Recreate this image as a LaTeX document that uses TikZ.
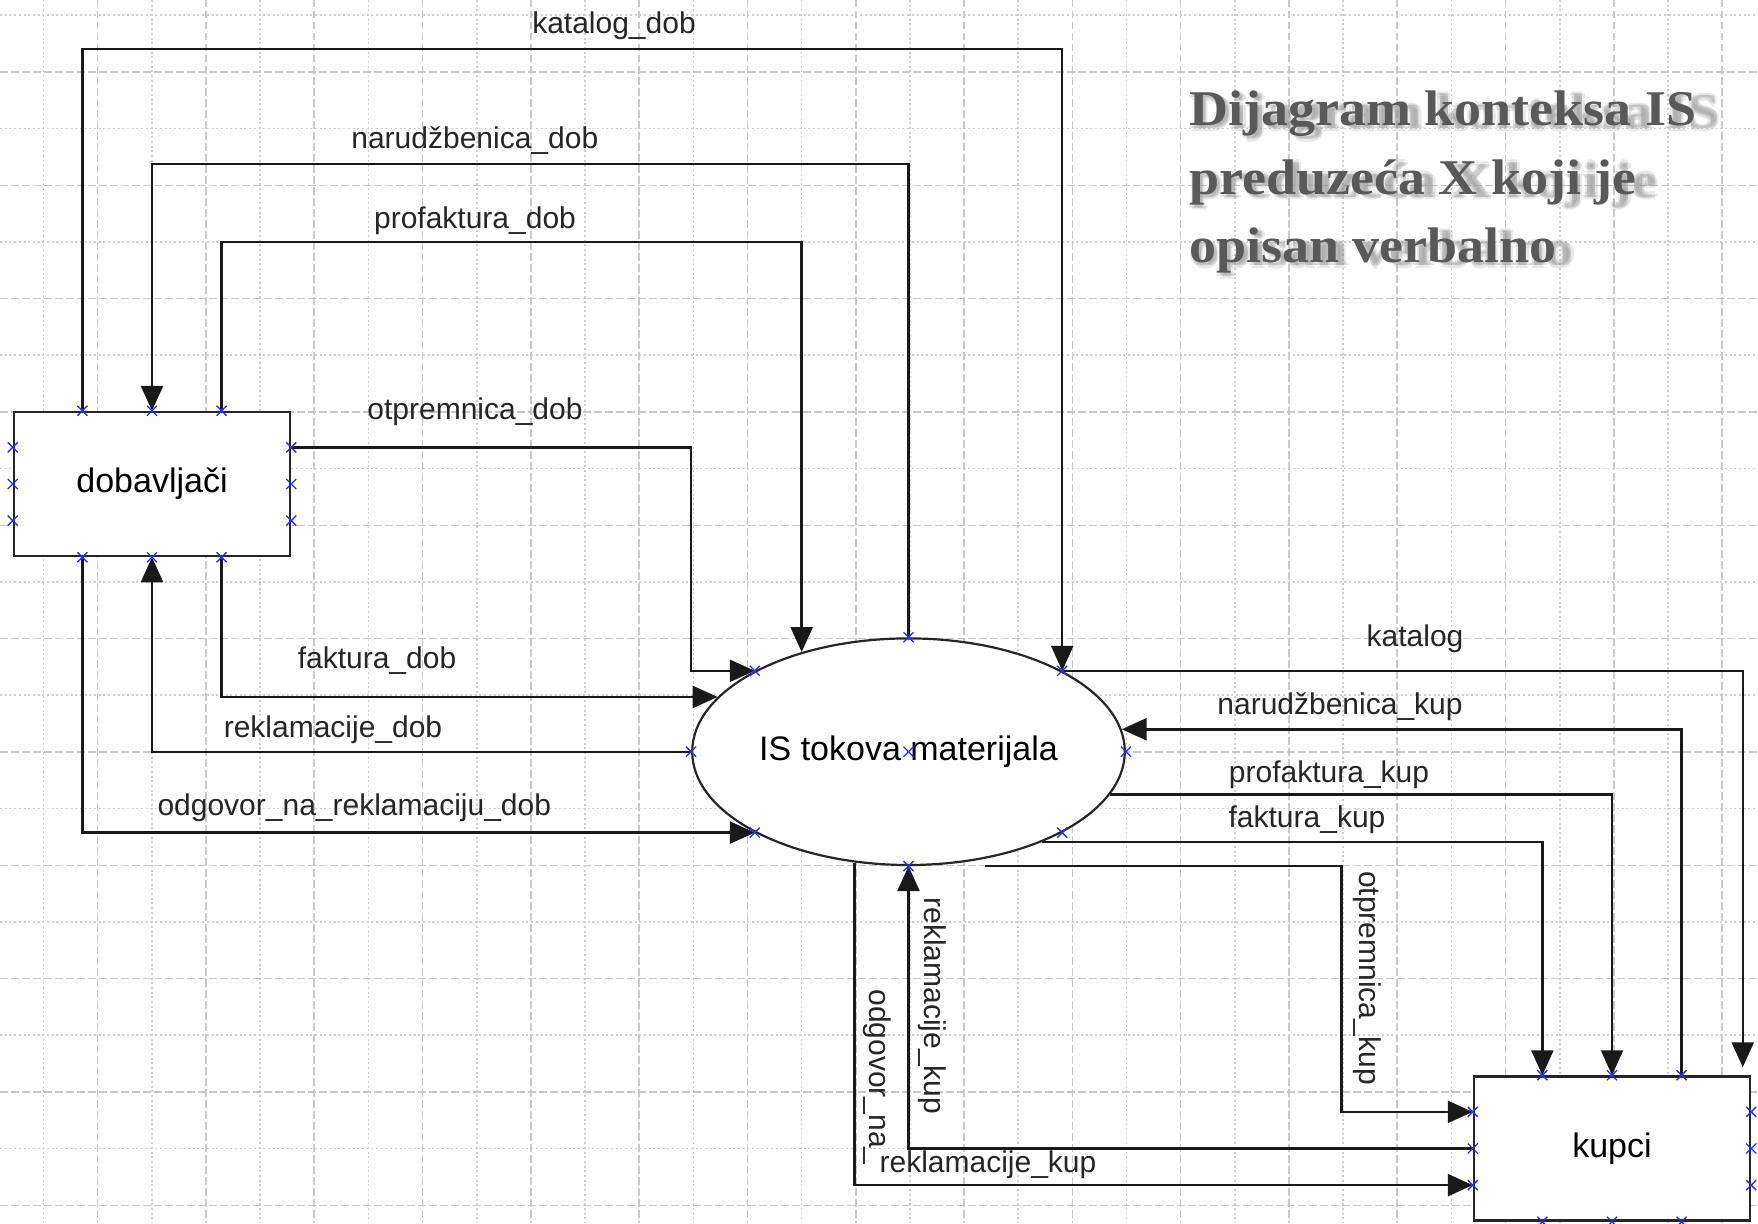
\documentclass[tikz,border=0pt]{standalone}
\usepackage{fontspec}
\usepackage{graphicx}
\newfontfamily\lab{Liberation Sans}
\newfontfamily\ttlfont{Liberation Serif}
\usetikzlibrary{arrows.meta,shapes.geometric,calc}
\definecolor{cpblue}{RGB}{45,45,240}

\begin{document}
\begin{tikzpicture}[x=1pt,y=-1pt,
  gmaj/.style={draw=gray!42,line width=1.6pt,dash pattern=on 7.5pt off 3.5pt},
  gmin/.style={draw=gray!38,line width=1.6pt,dash pattern=on 2pt off 2.7pt},
  entity/.style={draw=black!85,line width=2.5pt,fill=white,minimum width=276pt,
    minimum height=144pt,inner sep=0pt,font=\lab\fontsize{34}{40}\selectfont},
  proc/.style={ellipse,draw=black!85,line width=2.2pt,fill=white,
    minimum width=432.6pt,minimum height=226.6pt,inner sep=0pt,
    font=\lab\fontsize{34}{40}\selectfont},
  flow/.style={draw=black!90,line width=2.4pt},
  arr/.style={flow,-{Triangle[length=25pt,width=22pt]}},
  lbl/.style={anchor=base,inner sep=0pt,text=black!85,font=\lab\fontsize{30}{36}\selectfont},
  vlbl/.style={lbl,rotate=-90},
  ttl/.style={anchor=base west,inner sep=0pt,text=black!65,
    font=\ttlfont\fontsize{50}{60}\selectfont\bfseries},
  cp/.pic={\draw[cpblue,line width=1.3pt] (-5,-5)--(5,5) (-5,5)--(5,-5);}
]
\fill[white] (0,0) rectangle (1758,1223);
\useasboundingbox (0,0) rectangle (1758,1223);

% background grid: dotted minor lines, dashed major lines
\foreach \i in {0,...,15} {
  \draw[gmin] ({43.5+108.3*\i},0) -- ({43.5+108.3*\i},1223);
  \draw[gmaj] ({97.65+108.3*\i},0) -- ({97.65+108.3*\i},1223);
}
\foreach \i in {0,...,10} {
  \draw[gmin] (0,{15.3+113.33*\i}) -- (1758,{15.3+113.33*\i});
  \draw[gmaj] (0,{72+113.33*\i}) -- (1758,{72+113.33*\i});
}

% external entities and the process
\node[entity] (dob) at (152,484) {dobavljači};
\node[entity] (kup) at (1612,1148.5) {kupci};
\node[proc] (ell) at (908.5,751.7) {IS tokova materijala};

% connection points on the entity boxes (quarter points of each side)
\foreach \n/\f in {1/0.25,2/0.5,3/0.75} {
  \coordinate (dT\n) at ($(dob.north west)!\f!(dob.north east)$);
  \coordinate (dB\n) at ($(dob.south west)!\f!(dob.south east)$);
  \coordinate (dL\n) at ($(dob.north west)!\f!(dob.south west)$);
  \coordinate (dR\n) at ($(dob.north east)!\f!(dob.south east)$);
  \coordinate (kT\n) at ($(kup.north west)!\f!(kup.north east)$);
  \coordinate (kB\n) at ($(kup.south west)!\f!(kup.south east)$);
  \coordinate (kL\n) at ($(kup.north west)!\f!(kup.south west)$);
  \coordinate (kR\n) at ($(kup.north east)!\f!(kup.south east)$);
}

% routing levels
\coordinate (lvKD) at (0,49.3);
\coordinate (lvND) at (0,163.7);
\coordinate (lvPD) at (0,242);
\coordinate (colOK) at (1341.5,0);
\coordinate (katEnd) at ($(kup.north east)+(-8.5,-8)$);
\coordinate (otpStart) at ($(ell.south)+(76,0)$);

% flows with the suppliers
\draw[arr] (dT1) -- (dT1 |- lvKD) -| (ell.north east);
\draw[arr] (ell.north) -- (ell.north |- lvND) -| (dT2);
\draw[arr] (dT3) -- (dT3 |- lvPD) -| (ell.137.9);
\draw[arr] (dR1) -- (dR1 -| ell.west) |- (ell.north west);
\draw[arr] (dB3) |- (ell.164.26);
\draw[arr] (ell.west) -| (dB2);
\draw[arr] (dB1) |- (ell.south west);

% flows with the customers
\draw[arr] (ell.north east) -| (katEnd);
\draw[arr] (kT3) |- (ell.6.03);
\draw[arr] (ell.-12.97) -| (kT2);
\draw[arr] (ell.-34.9) -| (kT1);
\draw[arr] (otpStart) -- (otpStart -| colOK) |- (kL1);
\draw[arr] (kL2) -| (ell.south);
\draw[arr] (ell.244.0) |- (kL3);

% flow labels
\node[lbl] (lKD) at (614,33.5) {katalog\_dob};
\node[lbl] (lND) at (474.8,148) {narudžbenica\_dob};
\node[lbl] (lPD) at (475,228) {profaktura\_dob};
\node[lbl] (lOD) at (475,419) {otpremnica\_dob};
\node[lbl] (lFD) at (377,668) {faktura\_dob};
\node[lbl] (lRD) at (333,737) {reklamacije\_dob};
\node[lbl] (lAD) at (354.3,815) {odgovor\_na\_reklamaciju\_dob};
\node[lbl] (lK) at (1415,646) {katalog};
\node[lbl] (lNK) at (1340,714) {narudžbenica\_kup};
\node[lbl] (lPK) at (1329,782) {profaktura\_kup};
\node[lbl] (lFK) at (1307,827) {faktura\_kup};
\node[vlbl] (lOK) at (1359,978) {otpremnica\_kup};
\node[vlbl] (lRK) at (924,1006) {reklamacije\_kup};
\node[vlbl] (lAK) at (869,1077) {odgovor\_na\_};
\node[lbl] (lAK2) at (988,1172.7) {reklamacije\_kup};

% title with a soft shadow
\foreach \t/\yb [count=\n] in {{Dijagram konteksa IS}/125.5,{preduzeća X koji je}/194,{opisan verbalno}/262.5} {
  \foreach \dx/\dy [count=\m] in {-2.5/0,2.5/0,0/-2.5,0/2.5,0/0} {
    \node[ttl,text=black!45,opacity=.2] (sh\n-\m) at ({1191+\dx},{\yb+3+\dy}) {\scalebox{1.125}[1]{\t}};
  }
  \node[ttl] (ttl\n) at (1189,\yb) {\scalebox{1.08}[1]{\t}};
}

% connection point markers
\foreach \p in {dT1,dT2,dT3,dB1,dB2,dB3,dL1,dL2,dL3,dR1,dR2,dR3,
                kT1,kT2,kT3,kB1,kB2,kB3,kL1,kL2,kL3,kR1,kR2,kR3,
                ell.north,ell.south,ell.east,ell.west,ell.center,
                ell.north west,ell.north east,ell.south west,ell.south east}
  \pic at (\p) {cp};
\end{tikzpicture}
\end{document}
